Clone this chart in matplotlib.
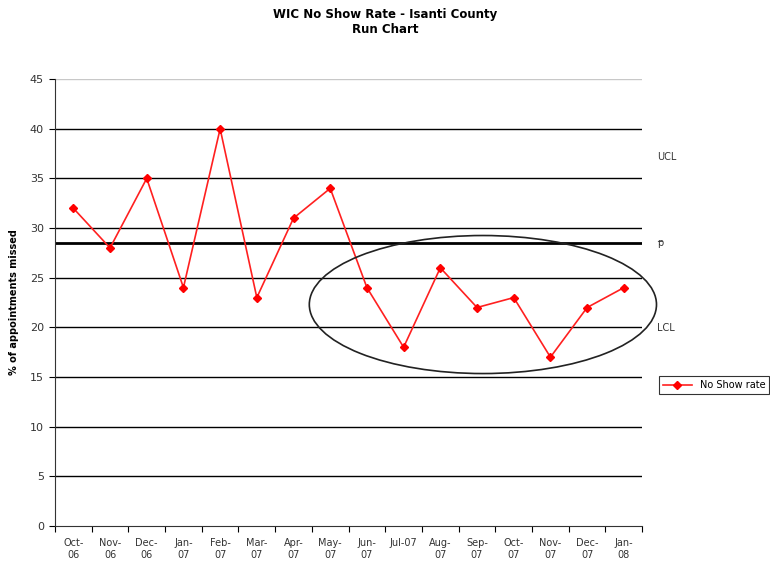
import numpy as np
import matplotlib.pyplot as plt
from matplotlib.patches import Ellipse

# datos
meses = ['Oct-\n06', 'Nov-\n06', 'Dec-\n06', 'Jan-\n07', 'Feb-\n07', 'Mar-\n07', 'Apr-\n07',
         'May-\n07', 'Jun-\n07', 'Jul-07', 'Aug-\n07', 'Sep-\n07', 'Oct-\n07', 'Nov-\n07',
         'Dec-\n07', 'Jan-\n08']
tasa = [32, 28, 35, 24, 40, 23, 31, 34, 24, 18, 26, 22, 23, 17, 22, 24]
p_media = 28.5
ucl = 37.2
lcl = 19.9

fig = plt.figure(figsize=(7.7, 5.61), dpi=100)
ax = fig.add_axes([0.0714, 0.0624, 0.7626, 0.7966])

x = np.arange(len(tasa))

# rejilla horizontal
for v in range(5, 45, 5):
    ax.axhline(v, color='black', lw=1.0, zorder=1)
ax.axhline(45, color='#c8c8c8', lw=1.0, zorder=1)
ax.axhline(p_media, color='black', lw=2.0, zorder=2)

ax.plot(x, tasa, '-', color='#ff2020', lw=1.2, marker='D', markersize=4.5,
        markerfacecolor='#ff0000', markeredgecolor='#ff0000', label='No Show rate', zorder=3)

# elipse
el = Ellipse((11.16, 22.3), 9.46, 13.9, fill=False, edgecolor='#222222', lw=1.2,
             clip_on=False, zorder=4)
ax.add_patch(el)

ax.set_xlim(-0.5, len(tasa) - 0.5)
ax.set_ylim(0, 45)

# ejes
for s in ['top', 'right']:
    ax.spines[s].set_visible(False)
ax.spines['left'].set_color('#333333')
ax.spines['bottom'].set_color('#333333')

ax.set_yticks(range(0, 50, 5))
ax.tick_params(axis='y', direction='out', length=4, labelsize=8, labelcolor='#333333', pad=4)

ax.set_xticks(np.arange(-0.5, len(tasa), 1.0))
ax.set_xticklabels([])
ax.tick_params(axis='x', which='major', direction='out', length=4)
ax.set_xticks(x, minor=True)
ax.set_xticklabels(meses, minor=True, fontsize=7, color='#333333', linespacing=1.15)
ax.tick_params(axis='x', which='minor', length=0, pad=9)

ax.set_ylabel('% of appointments missed', fontsize=7, fontweight='bold', labelpad=8)

# etiquetas de limites
ax.text(1.025, (ucl) / 45, 'UCL', transform=ax.transAxes, fontsize=7, va='center', color='#333333')
ax.text(1.025, (p_media + 0.3) / 45, '_\np', transform=ax.transAxes, fontsize=7, va='center',
        linespacing=0.6, color='#333333')
ax.text(1.025, (lcl) / 45, 'LCL', transform=ax.transAxes, fontsize=7, va='center', color='#333333')

fig.suptitle('WIC No Show Rate - Isanti County\nRun Chart', fontsize=8.5, fontweight='bold',
             y=0.985)

leg = ax.legend(loc='center left', bbox_to_anchor=(1.02, 0.315), fontsize=7, frameon=True,
                fancybox=False, edgecolor='black', handlelength=3, borderpad=0.4)
leg.get_frame().set_linewidth(0.8)

fig.savefig('out.png', dpi=100)
